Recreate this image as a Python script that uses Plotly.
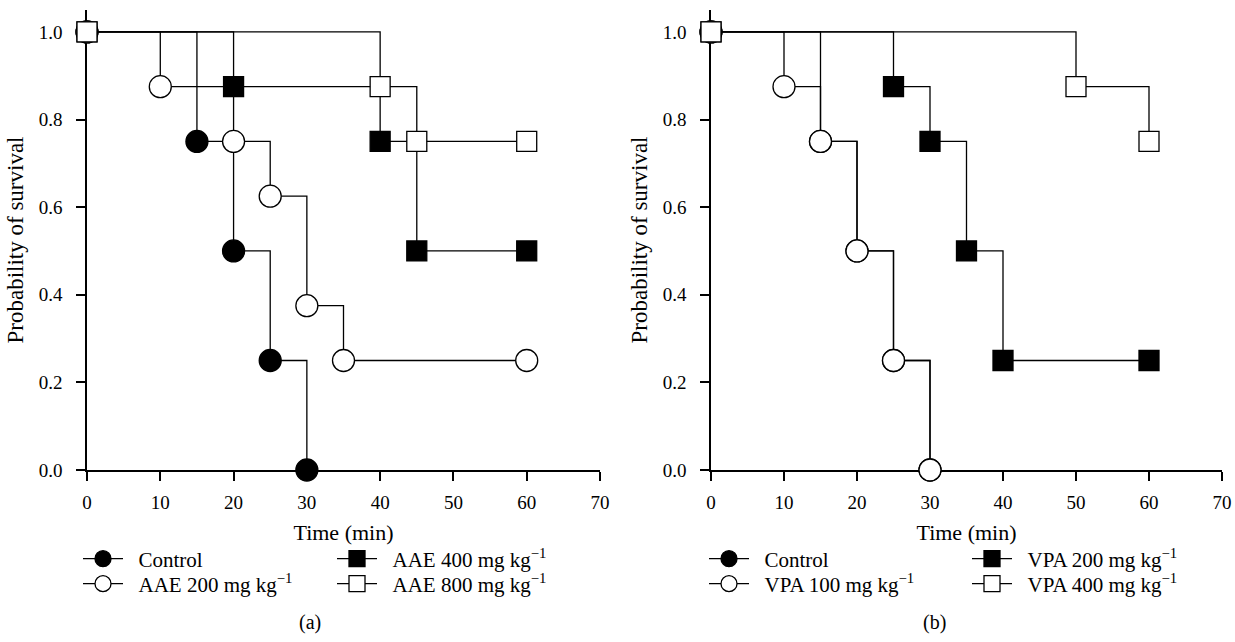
import plotly.graph_objects as go

# ---- data ----
a_control_t = [0, 15, 20, 25, 30]
a_control_s = [1.0, 0.75, 0.5, 0.25, 0.0]
a_aae200_t = [0, 10, 20, 25, 30, 35, 60]
a_aae200_s = [1.0, 0.875, 0.75, 0.625, 0.375, 0.25, 0.25]
a_aae400_t = [0, 20, 40, 45, 60]
a_aae400_s = [1.0, 0.875, 0.75, 0.5, 0.5]
a_aae800_t = [0, 40, 45, 60]
a_aae800_s = [1.0, 0.875, 0.75, 0.75]

b_control_t = [0, 15, 20, 25, 30]
b_control_s = [1.0, 0.75, 0.5, 0.25, 0.0]
b_vpa100_t = [0, 10, 15, 20, 25, 30]
b_vpa100_s = [1.0, 0.875, 0.75, 0.5, 0.25, 0.0]
b_vpa200_t = [0, 25, 30, 35, 40, 60]
b_vpa200_s = [1.0, 0.875, 0.75, 0.5, 0.25, 0.25]
b_vpa400_t = [0, 50, 60]
b_vpa400_s = [1.0, 0.875, 0.75]

x_ticks = [0, 10, 20, 30, 40, 50, 60, 70]
y_ticks = [0.0, 0.2, 0.4, 0.6, 0.8, 1.0]

a_names = ["Control", "AAE 200 mg kg<sup>−1</sup>", "AAE 400 mg kg<sup>−1</sup>", "AAE 800 mg kg<sup>−1</sup>"]
b_names = ["Control", "VPA 100 mg kg<sup>−1</sup>", "VPA 200 mg kg<sup>−1</sup>", "VPA 400 mg kg<sup>−1</sup>"]
panel_labels = ["(a)", "(b)"]

FONT = "Liberation Serif"
W, H = 1235, 642


def px(xr):
    return xr / W


def py(yr):
    return 1 - yr / H


styles = [
    dict(symbol="circle", color="black", size=22),
    dict(symbol="circle", color="white", size=22),
    dict(symbol="square", color="black", size=20),
    dict(symbol="square", color="white", size=20),
]

fig = go.Figure()

panels = [
    ("x", "y", [(a_control_t, a_control_s), (a_aae200_t, a_aae200_s), (a_aae400_t, a_aae400_s), (a_aae800_t, a_aae800_s)], a_names, ["legend", "legend2", "legend3", "legend4"]),
    ("x2", "y2", [(b_control_t, b_control_s), (b_vpa100_t, b_vpa100_s), (b_vpa200_t, b_vpa200_s), (b_vpa400_t, b_vpa400_s)], b_names, ["legend5", "legend6", "legend7", "legend8"]),
]

for xa, ya, series, names, legs in panels:
    for (t, s), name, st, lg in zip(series, names, styles, legs):
        fig.add_trace(go.Scatter(
            x=t, y=s, name="\u2002" + name, mode="lines+markers", xaxis=xa, yaxis=ya,
            line=dict(color="black", width=1.3, shape="hv"),
            marker=dict(symbol=st["symbol"], size=st["size"], color=st["color"],
                        line=dict(color="black", width=1.3)),
            cliponaxis=False, legend=lg, hoverinfo="skip",
        ))

ydom = [py(470), py(10)]
xdom_a = [px(87), px(600)]
xdom_b = [px(711), px(1222)]

axis_common = dict(
    showline=True, linecolor="black", linewidth=1.5, ticks="outside", ticklen=9,
    tickwidth=1.5, tickcolor="black", showgrid=False, zeroline=False,
    tickfont=dict(family=FONT, size=19, color="black"), layer="below traces",
    ticklabeloverflow="allow",
)

xcommon = dict(axis_common, range=[0, 70], tickvals=x_ticks, ticktext=[str(v) for v in x_ticks],
               ticklabelstandoff=5,
               title=dict(text="Time (min)", font=dict(family=FONT, size=22, color="black"), standoff=13))
ycommon = dict(axis_common, range=[0, 1.05], tickvals=y_ticks, ticktext=[f"{v:.1f}" for v in y_ticks],
               ticklabelstandoff=10,
               title=dict(text="Probability of survival", font=dict(family=FONT, size=23, color="black"), standoff=9))

legend_common = dict(orientation="v", bgcolor="rgba(0,0,0,0)", font=dict(family=FONT, size=21, color="black"),
                     xanchor="left", yanchor="middle", itemwidth=40, tracegroupgap=0, borderwidth=0)

# legend placement (left edge of each legend box, row centre), page pixels
leg_x = {"legend": 78, "legend2": 78, "legend3": 332, "legend4": 332,
         "legend5": 704, "legend6": 704, "legend7": 967, "legend8": 967}
leg_y = {"legend": 559, "legend2": 584, "legend3": 559, "legend4": 584,
         "legend5": 559, "legend6": 584, "legend7": 559, "legend8": 584}

legends = {k: dict(legend_common, x=px(leg_x[k]), y=py(leg_y[k])) for k in leg_x}

fig.update_layout(
    width=W, height=H, margin=dict(l=0, r=0, t=0, b=0, autoexpand=False),
    paper_bgcolor="white", plot_bgcolor="white",
    xaxis=dict(xcommon, domain=xdom_a, anchor="y"),
    yaxis=dict(ycommon, domain=ydom, anchor="x"),
    xaxis2=dict(xcommon, domain=xdom_b, anchor="y2"),
    yaxis2=dict(ycommon, domain=ydom, anchor="x2"),
    showlegend=True,
    hovermode=False,
    **legends,
)

for lab, xc in zip(panel_labels, [310, 934]):
    fig.add_annotation(text=lab, xref="paper", yref="paper", x=px(xc), y=py(622),
                       showarrow=False, font=dict(family=FONT, size=20, color="black"),
                       xanchor="center", yanchor="middle")

# remove the default 8px page margin so the 1235x642 figure fills the window exactly
fig.write_html("out.html", config={"displayModeBar": False},
               post_script="document.body.style.margin='0px';document.body.style.overflow='hidden';")
